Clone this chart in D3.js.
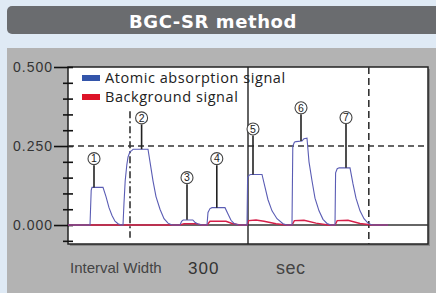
<!DOCTYPE html>
<html>
<head>
<meta charset="utf-8">
<script src="https://cdn.jsdelivr.net/npm/d3@7"></script>
<style>
  body { margin: 0; background: #dfeaf5; }
  svg { display: block; }
</style>
</head>
<body>
<div id="chart"></div>
<script>
// signal traces (time in sec, absorbance)
const absTime = [0, 55, 58, 60, 87.5, 95, 102.5, 110, 117.5, 125, 132.5,
  137.5, 140, 143, 147, 150, 155, 160, 163, 170, 200, 205, 212.5, 220, 230, 240, 250, 260,
  280, 284, 288, 312, 318, 325, 335,
  347.5, 350, 355, 360, 392.5, 400, 407.5, 415, 425, 437,
  447.5, 449, 453, 457, 485, 492.5, 500, 510, 522.5, 537.5, 547.5,
  560, 562, 566, 570, 585, 590, 597.5, 602.5, 610, 617.5, 627.5, 637.5, 647.5, 657.5,
  667.5, 669, 673, 678, 705, 712.5, 720, 730, 740, 750, 760, 800];
const absValue = [0, 0, 0.11, 0.119, 0.119, 0.09, 0.055, 0.03, 0.012, 0.004, 0,
  0, 0.07, 0.14, 0.19, 0.215, 0.232, 0.236, 0.24, 0.24, 0.24, 0.2, 0.14, 0.09, 0.05, 0.02, 0.006, 0,
  0, 0.012, 0.016, 0.016, 0.008, 0.003, 0,
  0, 0.04, 0.052, 0.055, 0.055, 0.035, 0.015, 0.005, 0.001, 0,
  0, 0.15, 0.158, 0.16, 0.16, 0.12, 0.08, 0.045, 0.02, 0.004, 0,
  0, 0.25, 0.262, 0.264, 0.266, 0.273, 0.275, 0.2, 0.14, 0.085, 0.045, 0.018, 0.005, 0,
  0, 0.165, 0.178, 0.181, 0.181, 0.13, 0.085, 0.045, 0.02, 0.006, 0, 0];

const bgTime = [0, 280, 290, 320, 335, 347.5, 355, 395, 410, 430, 447.5, 452, 470, 490, 520, 545,
  560, 566, 590, 620, 650, 667.5, 673, 700, 730, 760, 800];
const bgValue = [0, 0, 0.004, 0.004, 0, 0, 0.012, 0.012, 0.005, 0, 0, 0.014, 0.016, 0.012, 0.004, 0,
  0, 0.014, 0.015, 0.006, 0, 0, 0.014, 0.015, 0.005, 0, 0];

// peak markers: number, time, circle level, peak top
const peakLabels = ["1", "2", "3", "4", "5", "6", "7"];
const peakTime = [65, 184, 297.5, 372, 462.5, 582.5, 695];
const peakCircle = [0.21, 0.339, 0.15, 0.21, 0.304, 0.371, 0.34];
const peakTop = [0.119, 0.24, 0.017, 0.055, 0.16, 0.266, 0.181];

const yTicks = [-0.05, 0, 0.05, 0.1, 0.15, 0.2, 0.25, 0.3, 0.35, 0.4, 0.45, 0.5];
const yLabels = [0, 0.25, 0.5];
const markerTime = [155, 450, 752];

const svg = d3.select("#chart")
  .append("svg")
    .attr("width", 436)
    .attr("height", 293);

// title bar
svg.append("rect")
    .attr("x", 7).attr("y", 6)
    .attr("width", 440).attr("height", 28)
    .attr("rx", 5)
    .attr("fill", "#6a6c6f");
svg.append("text")
    .attr("x", 213).attr("y", 27.5)
    .attr("text-anchor", "middle")
    .attr("fill", "white")
    .style("font-family", "DejaVu Sans")
    .style("font-weight", "bold")
    .style("font-size", "18px")
    .style("letter-spacing", "0.6px")
    .text("BGC-SR method");

// gray panel
svg.append("rect")
    .attr("x", 7).attr("y", 48)
    .attr("width", 440).attr("height", 250)
    .attr("fill", "#b3b3b3");

const plotLeft = 68, plotRight = 428, plotTop = 67, plotBottom = 244;

const x = d3.scaleLinear().domain([0, 900]).range([plotLeft, plotRight]);
const y = d3.scaleLinear().domain([-0.06, 0.5]).range([plotBottom, plotTop]);

// plot area
svg.append("rect")
    .attr("x", plotLeft + 2).attr("y", plotTop + 2)
    .attr("width", plotRight - plotLeft).attr("height", plotBottom - plotTop)
    .attr("fill", "#8a8a8a");
svg.append("rect")
    .attr("x", plotLeft).attr("y", plotTop)
    .attr("width", plotRight - plotLeft).attr("height", plotBottom - plotTop)
    .attr("fill", "white")
    .attr("stroke", "#222")
    .attr("stroke-width", 1.5);

// y axis
const isLabel = d => yLabels.some(v => Math.abs(v - d) < 1e-9);
const yAxis = svg.append("g")
    .attr("transform", "translate(" + plotLeft + ",0)")
    .call(d3.axisLeft(y).tickValues(yTicks).tickSize(0)
      .tickFormat(d => isLabel(d) ? d3.format(".3f")(d) : ""));
yAxis.select(".domain").remove();
yAxis.selectAll(".tick line")
    .attr("x1", d => isLabel(d) ? -14 : -5)
    .attr("x2", 5)
    .attr("stroke", "#111")
    .attr("stroke-width", 1.6);
yAxis.selectAll(".tick text")
    .attr("x", -15)
    .attr("dy", "0.35em")
    .attr("fill", "#333")
    .style("font-family", "Liberation Sans")
    .style("font-size", "14px")
    .style("letter-spacing", "1px");

// reference lines
svg.append("line")
    .attr("x1", plotLeft).attr("x2", plotRight)
    .attr("y1", y(0.25)).attr("y2", y(0.25))
    .attr("stroke", "#333").attr("stroke-width", 1.6)
    .attr("stroke-dasharray", "6,4");
svg.append("line")
    .attr("x1", x(markerTime[0])).attr("x2", x(markerTime[0]))
    .attr("y1", y(0.36)).attr("y2", y(-0.04))
    .attr("stroke", "#333").attr("stroke-width", 1.6)
    .attr("stroke-dasharray", "7,3,2,3");
svg.append("line")
    .attr("x1", x(markerTime[1])).attr("x2", x(markerTime[1]))
    .attr("y1", plotTop).attr("y2", plotBottom)
    .attr("stroke", "#222").attr("stroke-width", 1.4);
svg.append("line")
    .attr("x1", x(markerTime[2])).attr("x2", x(markerTime[2]))
    .attr("y1", plotTop).attr("y2", plotBottom)
    .attr("stroke", "#333").attr("stroke-width", 1.6)
    .attr("stroke-dasharray", "7,4");

// zero line
svg.append("line")
    .attr("x1", plotLeft).attr("x2", plotRight)
    .attr("y1", y(0)).attr("y2", y(0))
    .attr("stroke", "#333").attr("stroke-width", 1.5);

// traces
const line = d3.line()
  .x(d => x(d[0]))
  .y(d => y(d[1]));

svg.append("path")
    .datum(bgTime.map((t, i) => [t, bgValue[i]]))
    .attr("d", line)
    .attr("fill", "none")
    .attr("stroke", "#d6204a")
    .attr("stroke-width", 1.4);
svg.append("path")
    .datum(absTime.map((t, i) => [t, absValue[i]]))
    .attr("d", line)
    .attr("fill", "none")
    .attr("stroke", "#5a5cb4")
    .attr("stroke-width", 1.1);

// peak labels
const peaks = svg.selectAll(".peak")
  .data(peakLabels)
  .enter()
  .append("g")
    .attr("class", "peak");
peaks.append("line")
    .attr("x1", (d, i) => x(peakTime[i])).attr("x2", (d, i) => x(peakTime[i]))
    .attr("y1", (d, i) => y(peakCircle[i]) + 6.5)
    .attr("y2", (d, i) => y(peakTop[i]))
    .attr("stroke", "#222").attr("stroke-width", 1.6);
peaks.append("circle")
    .attr("cx", (d, i) => x(peakTime[i]))
    .attr("cy", (d, i) => y(peakCircle[i]))
    .attr("r", 6)
    .attr("fill", "white")
    .attr("stroke", "#444")
    .attr("stroke-width", 1.1);
peaks.append("text")
    .attr("x", (d, i) => x(peakTime[i]))
    .attr("y", (d, i) => y(peakCircle[i]))
    .attr("dy", "0.36em")
    .attr("text-anchor", "middle")
    .attr("fill", "#222")
    .style("font-family", "Liberation Sans")
    .style("font-size", "10.5px")
    .text(d => d);

// legend
const legendNames = ["Atomic absorption signal", "Background signal"];
const legendColors = ["#3355aa", "#dd1428"];
const legend = svg.selectAll(".legend")
  .data(legendNames)
  .enter()
  .append("g")
    .attr("class", "legend")
    .attr("transform", (d, i) => "translate(82," + (78 + i * 19) + ")");
legend.append("rect")
    .attr("x", 0).attr("y", -3)
    .attr("width", 18).attr("height", 6)
    .attr("fill", (d, i) => legendColors[i]);
legend.append("text")
    .attr("x", 23)
    .attr("dy", "0.35em")
    .attr("fill", "#222")
    .style("font-family", "Open Sans")
    .style("font-size", "14.5px")
    .style("letter-spacing", "0.55px")
    .text(d => d);

// bottom caption
svg.append("text")
    .attr("x", 70).attr("y", 273)
    .attr("fill", "#444")
    .style("font-family", "Liberation Sans")
    .style("font-size", "15px")
    .text("Interval Width");
svg.append("text")
    .attr("x", 188).attr("y", 274)
    .attr("fill", "#333")
    .style("font-family", "Liberation Sans")
    .style("font-size", "17px")
    .style("letter-spacing", "1px")
    .text("300");
svg.append("text")
    .attr("x", 276).attr("y", 274)
    .attr("fill", "#444")
    .style("font-family", "Liberation Sans")
    .style("font-size", "18px")
    .style("letter-spacing", "0.5px")
    .text("sec");
</script>
</body>
</html>
